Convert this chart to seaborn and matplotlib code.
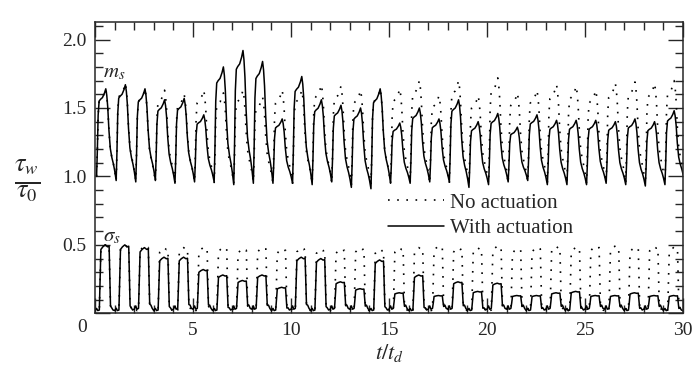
import numpy as np
import pandas as pd
import matplotlib
matplotlib.use("Agg")
import matplotlib.pyplot as plt
import seaborn as sns

# ---------------- data (cycle k spans t = k .. k+1) ----------------
m_act_peak = [1.64, 1.67, 1.64, 1.56, 1.57, 1.45, 1.80, 1.92, 1.84, 1.42,
              1.73, 1.56, 1.52, 1.50, 1.64, 1.39, 1.50, 1.42, 1.56, 1.40,
              1.46, 1.36, 1.45, 1.41, 1.41, 1.41, 1.40, 1.42, 1.40, 1.48]
m_no_peak = [1.64, 1.68, 1.64, 1.63, 1.60, 1.63, 1.61, 1.63, 1.58, 1.63,
             1.63, 1.67, 1.66, 1.63, 1.64, 1.64, 1.70, 1.59, 1.70, 1.59,
             1.72, 1.61, 1.63, 1.67, 1.66, 1.63, 1.68, 1.69, 1.68, 1.70]
m_act_trough = [1.00, 0.97, 0.96, 0.97, 0.95, 0.96, 0.96, 0.94, 0.95, 0.95,
                0.95, 0.94, 0.96, 0.92, 0.91, 0.95, 0.95, 0.96, 0.96, 0.92,
                0.94, 0.96, 0.97, 0.94, 0.94, 0.94, 0.95, 0.94, 0.93, 0.94, 0.96]
m_no_trough = [1.00, 0.97, 0.97, 0.96, 0.96, 0.96, 0.95, 0.95, 0.96, 0.95,
               0.95, 0.95, 0.95, 0.94, 0.94, 0.95, 0.95, 0.95, 0.95, 0.94,
               0.95, 0.95, 0.96, 0.95, 0.95, 0.95, 0.95, 0.95, 0.94, 0.95, 0.96]
s_act_peak = [0.50, 0.50, 0.48, 0.41, 0.41, 0.32, 0.28, 0.24, 0.28, 0.19,
              0.41, 0.40, 0.23, 0.18, 0.39, 0.15, 0.28, 0.13, 0.23, 0.16,
              0.22, 0.13, 0.13, 0.15, 0.16, 0.13, 0.13, 0.15, 0.13, 0.13]
s_no_peak = [0.50, 0.50, 0.49, 0.48, 0.48, 0.48, 0.48, 0.47, 0.48, 0.47,
             0.48, 0.47, 0.47, 0.48, 0.47, 0.48, 0.48, 0.49, 0.48, 0.48,
             0.49, 0.47, 0.48, 0.49, 0.48, 0.49, 0.49, 0.48, 0.49, 0.48]
s_act_base = [0.02, 0.02, 0.03, 0.02, 0.03, 0.03, 0.02, 0.03, 0.03, 0.02,
              0.03, 0.02, 0.03, 0.03, 0.02, 0.03, 0.02, 0.03, 0.03, 0.02,
              0.03, 0.03, 0.02, 0.03, 0.02, 0.03, 0.03, 0.02, 0.03, 0.02]
s_no_base = [0.02] * 30

x_ticks = [0, 5, 10, 15, 20, 25, 30]
x_ticklabels = ["", "5", "10", "15", "20", "25", "30"]
y_ticks = [0, 0.5, 1.0, 1.5, 2.0]
y_ticklabels = ["", "0.5", "1.0", "1.5", "2.0"]
series_labels = ["No actuation", "With actuation"]

# ---------------- waveform shape within one cycle ----------------
M_OFFSET = 0.08
M_RISE_PH = [0.00, 0.04, 0.08, 0.13, 0.20, 0.30, 0.40, 0.47]
M_RISE_FR = [0.00, 0.30, 0.70, 0.86, 0.88, 0.90, 0.95, 1.00]
M_FALL_PH = [0.52, 0.57, 0.63, 0.70, 0.78, 0.86, 0.93]
M_FALL_FR = [0.93, 0.80, 0.55, 0.35, 0.25, 0.18, 0.10]

S_PH = [0.00, 0.08, 0.14, 0.22, 0.26, 0.30, 0.40, 0.52, 0.64, 0.72, 0.75, 0.79, 0.85, 0.92]
S_FR = [0.00, 0.00, 0.00, 0.00, 0.45, 0.93, 0.97, 1.00, 0.97, 0.98, 0.60, 0.05, 0.00, 0.00]
S_MUL = [1.0, 1.8, 1.0, 1.2, 1.0, 1.0, 1.0, 1.0, 1.0, 1.0, 1.0, 1.5, 2.0, 1.2]


def m_wave(peaks, troughs):
    t, v = [], []
    for k, p in enumerate(peaks):
        t0 = k + M_OFFSET
        a, b = troughs[k], troughs[k + 1]
        for ph, fr in zip(M_RISE_PH, M_RISE_FR):
            t.append(t0 + ph); v.append(a + fr * (p - a))
        for ph, fr in zip(M_FALL_PH, M_FALL_FR):
            t.append(t0 + ph); v.append(b + fr * (p - b))
    t.append(len(peaks) + M_OFFSET); v.append(troughs[-1])
    return pd.DataFrame({"t": t, "v": v})


def s_wave(peaks, bases):
    t, v = [], []
    for k, (h, b) in enumerate(zip(peaks, bases)):
        for ph, fr, mu in zip(S_PH, S_FR, S_MUL):
            t.append(k + ph); v.append(b * mu + fr * (h - b))
    t.append(len(peaks)); v.append(bases[-1])
    return pd.DataFrame({"t": t, "v": v})


df_m_no = m_wave(m_no_peak, m_no_trough)
df_s_no = s_wave(s_no_peak, s_no_base)
df_m_act = m_wave(m_act_peak, m_act_trough)
df_s_act = s_wave(s_act_peak, s_act_base)

# ---------------- style ----------------
sns.set_theme(style="ticks")
plt.rcParams["font.family"] = ["Liberation Serif", "DejaVu Serif"]
plt.rcParams["mathtext.fontset"] = "stix"
plt.rcParams.update({
    "xtick.direction": "in", "ytick.direction": "in",
    "xtick.top": True, "ytick.right": True,
    "xtick.major.size": 11, "ytick.major.size": 11,
    "xtick.minor.size": 6, "ytick.minor.size": 6,
    "xtick.major.width": 1.0, "ytick.major.width": 1.0,
    "xtick.minor.width": 1.0, "ytick.minor.width": 1.0,
    "axes.linewidth": 1.1,
})

fig = plt.figure(figsize=(6.95, 3.75), dpi=100)
ax = fig.add_axes([0.1367, 0.1645, 0.846, 0.7775])

DOT = (0, (1, 4.5))
sns.lineplot(data=df_m_no, x="t", y="v", ax=ax, estimator=None, sort=False,
             color="black", lw=1.2, linestyle=DOT)
sns.lineplot(data=df_s_no, x="t", y="v", ax=ax, estimator=None, sort=False,
             color="black", lw=1.2, linestyle=DOT)
sns.lineplot(data=df_m_act, x="t", y="v", ax=ax, estimator=None, sort=False,
             color="black", lw=1.1)
sns.lineplot(data=df_s_act, x="t", y="v", ax=ax, estimator=None, sort=False,
             color="black", lw=1.1)

ax.set_xlim(0, 30)
ax.set_ylim(0, 2.13)
ax.set_xticks(x_ticks)
ax.set_xticklabels(x_ticklabels)
ax.set_yticks(y_ticks)
ax.set_yticklabels(y_ticklabels)
ax.xaxis.set_minor_locator(matplotlib.ticker.MultipleLocator(1))
ax.yaxis.set_minor_locator(matplotlib.ticker.MultipleLocator(0.1))
ax.tick_params(axis="both", which="major", labelsize=14, pad=6)
ax.text(-0.022, -0.05, "0", transform=ax.transAxes, fontsize=14,
        ha="center", va="center")

ax.set_xlabel(r"$t/t_d$", fontsize=16)
ax.xaxis.set_label_coords(0.50, -0.10)
ax.set_ylabel(r"$\frac{\tau_w}{\tau_0}$", fontsize=27, rotation=0, va="center", ha="center")
ax.yaxis.set_label_coords(-0.116, 0.455)

ax.text(0.42, 1.76, r"$m_s$", fontsize=15, ha="left", va="center")
ax.text(0.42, 0.56, r"$\sigma_s$", fontsize=15, ha="left", va="center")

lines = ax.lines
leg = ax.legend(handles=[lines[0], lines[2]], labels=series_labels,
                loc="upper left", bbox_to_anchor=(0.498, 0.412),
                frameon=False, fontsize=15, handlelength=2.7,
                handletextpad=0.3, labelspacing=0.28, borderpad=0,
                borderaxespad=0)

fig.savefig("out.png", dpi=100)
